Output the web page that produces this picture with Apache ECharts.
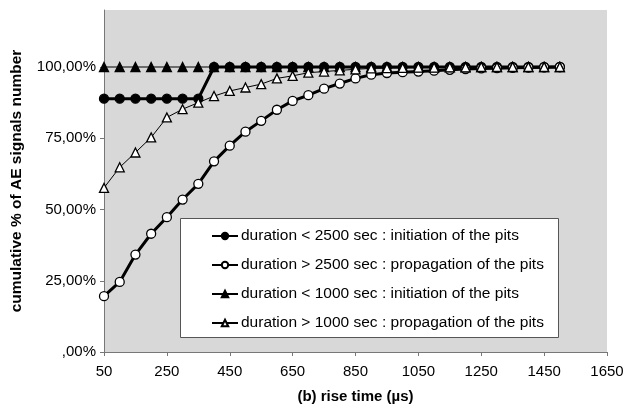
<!DOCTYPE html>
<html><head><meta charset="utf-8">
<script src="https://cdn.jsdelivr.net/npm/echarts@6/dist/echarts.min.js"></script>
<style>html,body{margin:0;padding:0;background:#fff}#c{width:628px;height:411px}</style>
</head><body><div id="c"></div>
<script>
var riseTime = [50,100,150,200,250,300,350,400,450,500,550,600,650,700,750,800,850,900,950,1000,1050,1100,1150,1200,1250,1300,1350,1400,1450,1500];
var initLt2500 = [88.9,88.9,88.9,88.9,88.9,88.9,88.9,100,100,100,100,100,100,100,100,100,100,100,100,100,100,100,100,100,100,100,100,100,100,100];
var propGt2500 = [19.6,24.6,34.2,41.5,47.3,53.5,59.0,66.9,72.4,77.3,81.1,85.0,88.1,90.1,92.4,94.2,96.0,97.3,97.9,98.2,98.4,98.7,99.0,99.3,99.5,99.6,99.7,99.8,99.9,100];
var initLt1000 = [100,100,100,100,100,100,100,100,100,100,100,100,100,100,100,100,100,100,100,100,100,100,100,100,100,100,100,100,100,100];
var propGt1000 = [57.6,64.8,70.0,75.3,82.3,85.2,87.5,89.8,91.6,92.8,94.0,96.0,96.9,98.0,98.4,98.8,99.2,99.5,99.6,99.7,99.8,99.8,99.9,99.9,100,100,100,100,100,100];
var seriesNames = ['duration < 2500 sec : initiation of the pits','duration > 2500 sec : propagation of the pits','duration < 1000 sec : initiation of the pits','duration > 1000 sec : propagation of the pits'];
var yTicks = [0,25,50,75,100];

function pairs(v){ return riseTime.map(function(x,i){ return [x, v[i]]; }); }
var FONT = 'Liberation Sans, Arial, sans-serif';
var chart = echarts.init(document.getElementById('c'), null, {renderer:'canvas'});
function mk(name, vals, symbol, filled, lw){
  return {
    name: name, type: 'line', data: pairs(vals), symbol: symbol, symbolSize: 9,
    showAllSymbol: true,
    lineStyle: {color:'#000', width: lw},
    itemStyle: {color: filled ? '#000' : '#fff', borderColor:'#000', borderWidth: 1.3},
    emphasis: {disabled:true}, animation:false, z: 2
  };
}
chart.setOption({
  animation: false,
  grid: {left:104, right:21, top:10, bottom:59, show:true, backgroundColor:'#d8d8d8', borderWidth:0},
  xAxis: {
    type:'value', min:50, max:1650, interval:200,
    name:'(b) rise time (µs)', nameLocation:'middle', nameGap:37,
    nameTextStyle:{fontFamily:FONT, fontWeight:'bold', fontSize:15, color:'#000'},
    axisLine:{lineStyle:{color:'#777', width:1}},
    axisTick:{show:true, inside:false, length:4, lineStyle:{color:'#777'}},
    axisLabel:{fontFamily:FONT, fontSize:15, color:'#000', margin:12,
      formatter:function(v){ return String(v); }},
    splitLine:{show:false}
  },
  yAxis: {
    type:'value', min:0, max:120, interval:25,
    name:'cumulative % of AE signals number', nameLocation:'middle', nameGap:79, nameRotate:90,
    nameTextStyle:{fontFamily:FONT, fontWeight:'bold', fontSize:15.5, color:'#000'},
    axisLine:{show:true, lineStyle:{color:'#777', width:1}},
    axisTick:{show:true, length:4, lineStyle:{color:'#777'}, customValues: yTicks},
    axisLabel:{fontFamily:FONT, fontSize:15, color:'#000', margin:8, customValues: yTicks,
      formatter:function(v){ return v===0 ? ',00%' : v.toFixed(2).replace('.',',') + '%'; }},
    splitLine:{show:false}
  },
  graphic: [{type:'rect', left:180, top:218, shape:{width:378, height:119}, style:{fill:'#fff', stroke:'#555', lineWidth:1}, z:5}],
  legend: {
    orient:'vertical', left:211, top:228, padding:0, itemGap:13, itemWidth:26, itemHeight:8, z:6,
    textStyle:{fontFamily:FONT, fontSize:15.5, color:'#000', padding:[0,0,0,-2]},
    data: seriesNames
  },
  series: [
    mk(seriesNames[0], initLt2500, 'circle', true, 3),
    mk(seriesNames[1], propGt2500, 'circle', false, 3),
    mk(seriesNames[2], initLt1000, 'triangle', true, 1),
    mk(seriesNames[3], propGt1000, 'triangle', false, 1)
  ]
});
</script></body></html>
